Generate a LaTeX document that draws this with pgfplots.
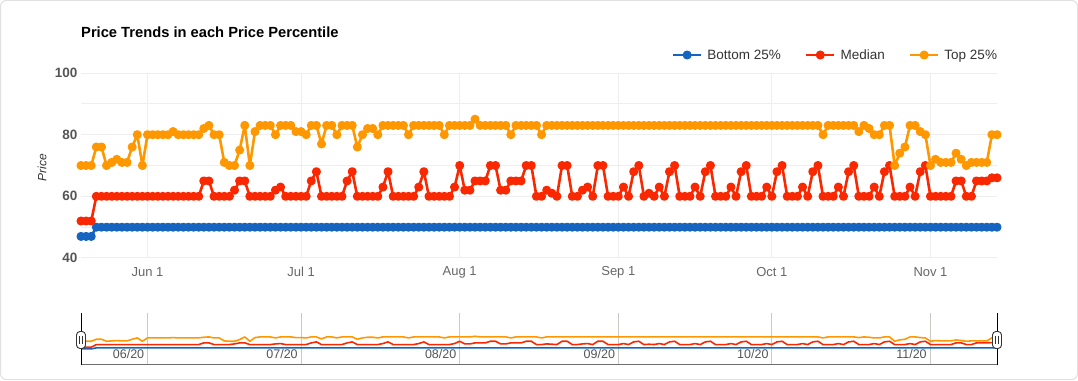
\documentclass[border=0pt]{standalone}
\usepackage{pgfplots}
\pgfplotsset{compat=1.18}
\usepackage{pgfplotstable}
\usepackage{fontspec}
\setmainfont{Liberation Sans}
\definecolor{cblue}{RGB}{21,101,192}
\definecolor{cred}{RGB}{250,40,0}
\definecolor{corange}{RGB}{255,152,0}
\definecolor{gridc}{RGB}{238,238,238}
\definecolor{navgrid}{RGB}{205,201,196}
\definecolor{navaxis}{RGB}{110,110,110}
\definecolor{txt}{RGB}{51,51,51}
\definecolor{lab}{RGB}{102,102,102}
\definecolor{ylab}{RGB}{85,85,85}
\definecolor{frame}{RGB}{225,225,225}
\newcommand\fs[1]{\fontsize{#1}{#1}\selectfont}
\pgfplotstableread{
d b r o
0 47 52 70
1 47 52 70
2 47 52 70
3 50 60 76
4 50 60 76
5 50 60 70
6 50 60 71
7 50 60 72
8 50 60 71
9 50 60 71
10 50 60 76
11 50 60 80
12 50 60 70
13 50 60 80
14 50 60 80
15 50 60 80
16 50 60 80
17 50 60 80
18 50 60 81
19 50 60 80
20 50 60 80
21 50 60 80
22 50 60 80
23 50 60 80
24 50 65 82
25 50 65 83
26 50 60 80
27 50 60 80
28 50 60 71
29 50 60 70
30 50 62 70
31 50 65 75
32 50 65 83
33 50 60 70
34 50 60 81
35 50 60 83
36 50 60 83
37 50 60 83
38 50 62 80
39 50 63 83
40 50 60 83
41 50 60 83
42 50 60 81
43 50 60 81
44 50 60 80
45 50 65 83
46 50 68 83
47 50 60 77
48 50 60 83
49 50 60 83
50 50 60 80
51 50 60 83
52 50 65 83
53 50 68 83
54 50 60 76
55 50 60 80
56 50 60 82
57 50 60 82
58 50 60 80
59 50 63 83
60 50 68 83
61 50 60 83
62 50 60 83
63 50 60 83
64 50 60 80
65 50 60 83
66 50 63 83
67 50 68 83
68 50 60 83
69 50 60 83
70 50 60 83
71 50 60 80
72 50 60 83
73 50 63 83
74 50 70 83
75 50 62 83
76 50 62 83
77 50 65 85
78 50 65 83
79 50 65 83
80 50 70 83
81 50 70 83
82 50 62 83
83 50 62 83
84 50 65 80
85 50 65 83
86 50 65 83
87 50 70 83
88 50 70 83
89 50 60 83
90 50 60 80
91 50 62 83
92 50 61 83
93 50 60 83
94 50 70 83
95 50 70 83
96 50 60 83
97 50 60 83
98 50 62 83
99 50 63 83
100 50 60 83
101 50 70 83
102 50 70 83
103 50 60 83
104 50 60 83
105 50 60 83
106 50 63 83
107 50 60 83
108 50 68 83
109 50 70 83
110 50 60 83
111 50 61 83
112 50 60 83
113 50 63 83
114 50 60 83
115 50 68 83
116 50 70 83
117 50 60 83
118 50 60 83
119 50 60 83
120 50 63 83
121 50 60 83
122 50 68 83
123 50 70 83
124 50 60 83
125 50 60 83
126 50 60 83
127 50 63 83
128 50 60 83
129 50 68 83
130 50 70 83
131 50 60 83
132 50 60 83
133 50 60 83
134 50 63 83
135 50 60 83
136 50 68 83
137 50 70 83
138 50 60 83
139 50 60 83
140 50 60 83
141 50 63 83
142 50 60 83
143 50 68 83
144 50 70 83
145 50 60 80
146 50 60 83
147 50 60 83
148 50 63 83
149 50 60 83
150 50 68 83
151 50 70 83
152 50 60 81
153 50 60 83
154 50 60 82
155 50 63 80
156 50 60 80
157 50 68 83
158 50 70 83
159 50 60 70
160 50 60 74
161 50 60 76
162 50 63 83
163 50 60 83
164 50 68 81
165 50 70 80
166 50 60 70
167 50 60 72
168 50 60 71
169 50 60 71
170 50 60 71
171 50 65 74
172 50 65 72
173 50 60 70
174 50 60 71
175 50 65 71
176 50 65 71
177 50 65 71
178 50 66 80
179 50 66 80
}\pricedata
\begin{document}
\begin{tikzpicture}[x=1pt,y=1pt]
\path[use as bounding box] (0,0) rectangle (1078,380);
\draw[rounded corners=6pt, draw=frame, line width=1pt] (0.5,0.5) rectangle (1077.5,379.5);
\node[anchor=base west, font=\fs{14.7}\bfseries, text=black, inner sep=0pt] at (81,342) {Price Trends in each Price Percentile};
\begin{axis}[
  at={(81pt,122pt)}, anchor=south west, scale only axis,
  width=916pt, height=185pt,
  xmin=0, xmax=179, ymin=40, ymax=100,
  clip=false,
  axis line style={draw=none},
  major tick length=0pt, minor tick length=0pt,
  xtick={13,43,74,105,135,166},
  xticklabels={Jun 1,Jul 1,Aug 1,Sep 1,Oct 1,Nov 1},
  ytick={40,60,80,100},
  minor ytick={50,70,90},
  xmajorgrids, ymajorgrids, yminorgrids,
  major grid style={draw=gridc, line width=1pt},
  minor grid style={draw=gridc, line width=1pt},
  /pgf/number format/assume math mode=true,
  yticklabel style={font=\fs{13.5}\bfseries, text=ylab, anchor=east},
  xticklabel style={font=\fs{13}, text=lab, anchor=center, yshift=-14pt},
  ylabel={Price},
  ylabel style={font=\fs{12}\itshape, text=txt, at={(axis description cs:-0.0426,0.49)}, anchor=center},
  legend columns=-1,
  legend style={at={(axis description cs:1,1)}, anchor=east, yshift=18pt, draw=none, fill=none,
    font=\fs{13.5}, text=txt, inner sep=0pt, outer sep=0pt,
    nodes={inner sep=0pt, text depth=0pt},
    /tikz/every odd column/.append style={column sep=5pt},
    /tikz/every even column/.append style={column sep=24pt}},
  legend image code/.code={\draw[#1, mark repeat=2, mark phase=2] plot coordinates {(0pt,0pt) (14pt,0pt) (28pt,0pt)};},
]
\addplot[cblue, line width=2.6pt, line join=round, mark=*, mark size=3.2pt, mark options={draw=none, fill=cblue}] table[x=d,y=b]{\pricedata};
\addlegendentry{Bottom 25\%}
\addplot[cred, line width=2.6pt, line join=round, mark=*, mark size=3.2pt, mark options={draw=none, fill=cred}] table[x=d,y=r]{\pricedata};
\addlegendentry{Median}
\addplot[corange, line width=2.6pt, line join=round, mark=*, mark size=3.2pt, mark options={draw=none, fill=corange}] table[x=d,y=o]{\pricedata};
\addlegendentry{Top 25\%}
\end{axis}
\begin{axis}[
  at={(81pt,15.5pt)}, anchor=south west, scale only axis,
  width=916pt, height=51.5pt,
  xmin=0, xmax=179, ymin=0, ymax=155,
  clip=false,
  axis x line*=bottom, axis y line=none,
  x axis line style={draw=navaxis, line width=1pt, -},
  ytick=\empty,
  major tick length=0pt,
  xtick={13,43,74,105,135,166},
  xticklabels={06/20,07/20,08/20,09/20,10/20,11/20},
  xmajorgrids,
  major grid style={draw=navgrid, line width=1pt},
  /pgf/number format/assume math mode=true,
  xticklabel style={font=\fs{12.5}, text=ylab, anchor=center, xshift=-19pt, yshift=10.5pt},
]
\addplot[cblue, line width=1.6pt, line join=round] table[x=d,y=b]{\pricedata};
\addplot[cred, line width=1.6pt, line join=round] table[x=d,y=r]{\pricedata};
\addplot[corange, line width=1.6pt, line join=round] table[x=d,y=o]{\pricedata};
\draw[black, line width=1pt] (axis cs:0,0) -- (axis cs:0,155);
\draw[black, line width=1pt] (axis cs:179,0) -- (axis cs:179,155);
\node[draw=txt, fill=white, rounded corners=3.5pt, minimum width=9pt, minimum height=17pt, inner sep=0pt, line width=0.9pt] (hl) at (rel axis cs:0,0.476) {};
\draw[txt, line width=0.9pt] ([xshift=-1.3pt,yshift=-4pt]hl.center) -- ([xshift=-1.3pt,yshift=4pt]hl.center);
\draw[txt, line width=0.9pt] ([xshift=1.3pt,yshift=-4pt]hl.center) -- ([xshift=1.3pt,yshift=4pt]hl.center);
\node[draw=txt, fill=white, rounded corners=3.5pt, minimum width=9pt, minimum height=17pt, inner sep=0pt, line width=0.9pt] (hr) at (rel axis cs:1,0.476) {};
\draw[txt, line width=0.9pt] ([xshift=-1.3pt,yshift=-4pt]hr.center) -- ([xshift=-1.3pt,yshift=4pt]hr.center);
\draw[txt, line width=0.9pt] ([xshift=1.3pt,yshift=-4pt]hr.center) -- ([xshift=1.3pt,yshift=4pt]hr.center);
\end{axis}
\end{tikzpicture}
\end{document}
